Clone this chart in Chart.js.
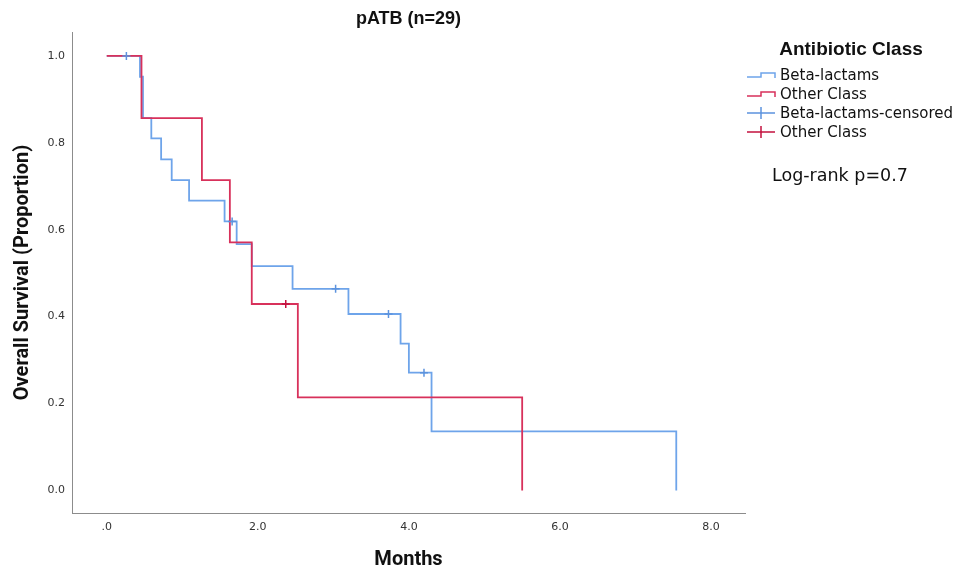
<!DOCTYPE html>
<html>
<head>
<meta charset="utf-8">
<title>pATB (n=29)</title>
<script src="https://cdn.jsdelivr.net/npm/chart.js@4"></script>
<style>
  html, body { margin: 0; padding: 0; background: #fff; }
  #wrap { width: 961px; height: 575px; }
</style>
</head>
<body>
<div id="wrap"><canvas id="chart" width="961" height="575"></canvas></div>
<script>
// Kaplan-Meier steps (months, survival proportion)
const betaTimes = [0, 0.44, 0.48, 0.59, 0.72, 0.86, 1.09, 1.56, 1.72, 1.92, 2.46, 3.20, 3.89, 4.00, 4.30, 7.54]
const betaSurvival = [1.0, 0.952, 0.857, 0.810, 0.762, 0.714, 0.667, 0.619, 0.567, 0.516, 0.464, 0.406, 0.338, 0.271, 0.136, 0.0]
const otherTimes = [0, 0.46, 1.26, 1.63, 1.92, 2.53, 5.50]
const otherSurvival = [1.0, 0.857, 0.714, 0.571, 0.429, 0.214, 0.0]

// censored observations
const betaCensorTimes = [0.26, 1.66, 3.03, 3.73, 4.20]
const betaCensorSurvival = [1.0, 0.619, 0.464, 0.406, 0.271]
const otherCensorTimes = [2.37]
const otherCensorSurvival = [0.429]

const seriesLabels = ['Beta-lactams', 'Other Class', 'Beta-lactams-censored', 'Other Class']

const xTicks = [0, 2, 4, 6, 8]
const xTickLabels = ['.0', '2.0', '4.0', '6.0', '8.0']
const yTicks = [0, 0.2, 0.4, 0.6, 0.8, 1.0]
const yTickLabels = ['0.0', '0.2', '0.4', '0.6', '0.8', '1.0']

const blue = '#6ea4ea'
const red = '#d8315b'
const axisColor = '#8c8c8c'
const tickFont = { family: '"DejaVu Sans", sans-serif', size: 11 }
const axisTitleFont = { family: 'Roboto, "Liberation Sans", sans-serif', size: 20, weight: 'bold' }

function toPoints(xs, ys) {
  return xs.map((x, i) => ({ x: x, y: ys[i] }))
}

// legend drawn at the right side, SPSS style
const sideLegend = {
  id: 'sideLegend',
  afterDraw(chart) {
    const ctx = chart.ctx
    const x0 = chart.chartArea.right + 2
    ctx.save()
    ctx.fillStyle = '#111'
    ctx.textAlign = 'center'
    ctx.textBaseline = 'middle'
    ctx.font = 'bold 19px "Liberation Sans", sans-serif'
    ctx.fillText('Antibiotic Class', 851, 50)

    ctx.textAlign = 'left'
    ctx.font = '15px "DejaVu Sans", sans-serif'
    chart.data.datasets.forEach((ds, i) => {
      const r = 76.5 + i * 19
      ctx.strokeStyle = ds.borderColor
      ctx.lineWidth = 1.5
      ctx.beginPath()
      if (ds.showLine) {
        ctx.moveTo(x0, r + 0.5)
        ctx.lineTo(x0 + 14, r + 0.5)
        ctx.lineTo(x0 + 14, r - 3.5)
        ctx.lineTo(x0 + 28, r - 3.5)
        ctx.lineTo(x0 + 28, r + 1.5)
      } else {
        ctx.moveTo(x0, r - 1.5)
        ctx.lineTo(x0 + 28, r - 1.5)
        ctx.moveTo(x0 + 14, r - 7.5)
        ctx.lineTo(x0 + 14, r + 4.5)
      }
      ctx.stroke()
      ctx.fillStyle = '#111'
      ctx.fillText(ds.label, x0 + 33, r)
    })

    ctx.font = '17.5px "DejaVu Sans", sans-serif'
    ctx.fillText('Log-rank p=0.7', 772, 176)
    ctx.restore()
  }
}

const chartConfig = {
  type: 'scatter',
  data: {
    datasets: [
      {
        label: seriesLabels[0],
        data: toPoints(betaTimes, betaSurvival),
        showLine: true,
        stepped: 'before',
        borderColor: blue,
        borderWidth: 1.8,
        pointRadius: 0,
        order: 4
      },
      {
        label: seriesLabels[1],
        data: toPoints(otherTimes, otherSurvival),
        showLine: true,
        stepped: 'before',
        borderColor: red,
        borderWidth: 1.8,
        pointRadius: 0,
        order: 3
      },
      {
        label: seriesLabels[2],
        data: toPoints(betaCensorTimes, betaCensorSurvival),
        showLine: false,
        pointStyle: 'cross',
        pointRadius: 4,
        borderWidth: 1.5,
        borderColor: '#5c93de',
        order: 2
      },
      {
        label: seriesLabels[3],
        data: toPoints(otherCensorTimes, otherCensorSurvival),
        showLine: false,
        pointStyle: 'cross',
        pointRadius: 4,
        borderWidth: 1.5,
        borderColor: '#c4123f',
        order: 1
      }
    ]
  },
  options: {
    responsive: false,
    animation: false,
    layout: { padding: { left: 0, right: 216, top: 0, bottom: 0 } },
    plugins: {
      legend: { display: false },
      tooltip: { enabled: false },
      title: { display: false }
    },
    scales: {
      x: {
        type: 'linear',
        min: -0.46,
        max: 8.45,
        afterBuildTicks: (s) => { s.ticks = xTicks.map((v) => ({ value: v })) },
        afterFit: (s) => { s.height = 62 },
        grid: { display: false, drawTicks: false },
        border: { display: true, color: axisColor, width: 1 },
        ticks: {
          padding: 8,
          color: '#333',
          font: tickFont,
          maxRotation: 0,
          autoSkip: false,
          callback: (v, i) => xTickLabels[i]
        },
        title: {
          display: true,
          text: 'Months',
          color: '#111',
          font: axisTitleFont,
          padding: { top: 0, bottom: 3 }
        }
      },
      // top axis only carries the chart title, centred over the plot
      x2: {
        type: 'linear',
        position: 'top',
        min: -0.46,
        max: 8.45,
        afterFit: (s) => { s.height = 32 },
        grid: { display: false, drawTicks: false },
        border: { display: false },
        ticks: { display: false },
        title: {
          display: true,
          text: 'pATB (n=29)',
          color: '#111',
          font: { family: '"Liberation Sans", sans-serif', size: 18, weight: 'bold' },
          padding: { top: 8, bottom: 0 }
        }
      },
      y: {
        type: 'linear',
        min: -0.052,
        max: 1.055,
        afterBuildTicks: (s) => { s.ticks = yTicks.map((v) => ({ value: v })) },
        afterFit: (s) => { s.width = 72 },
        grid: { display: false, drawTicks: false },
        border: { display: true, color: axisColor, width: 1 },
        ticks: {
          padding: 7,
          color: '#333',
          font: tickFont,
          autoSkip: false,
          callback: (v, i) => yTickLabels[i]
        },
        title: {
          display: true,
          text: 'Overall Survival (Proportion)',
          color: '#111',
          font: axisTitleFont,
          padding: { top: 11, bottom: 0 }
        }
      }
    }
  },
  plugins: [sideLegend]
}

const kmChart = new Chart(document.getElementById('chart').getContext('2d'), chartConfig)
</script>
</body>
</html>
